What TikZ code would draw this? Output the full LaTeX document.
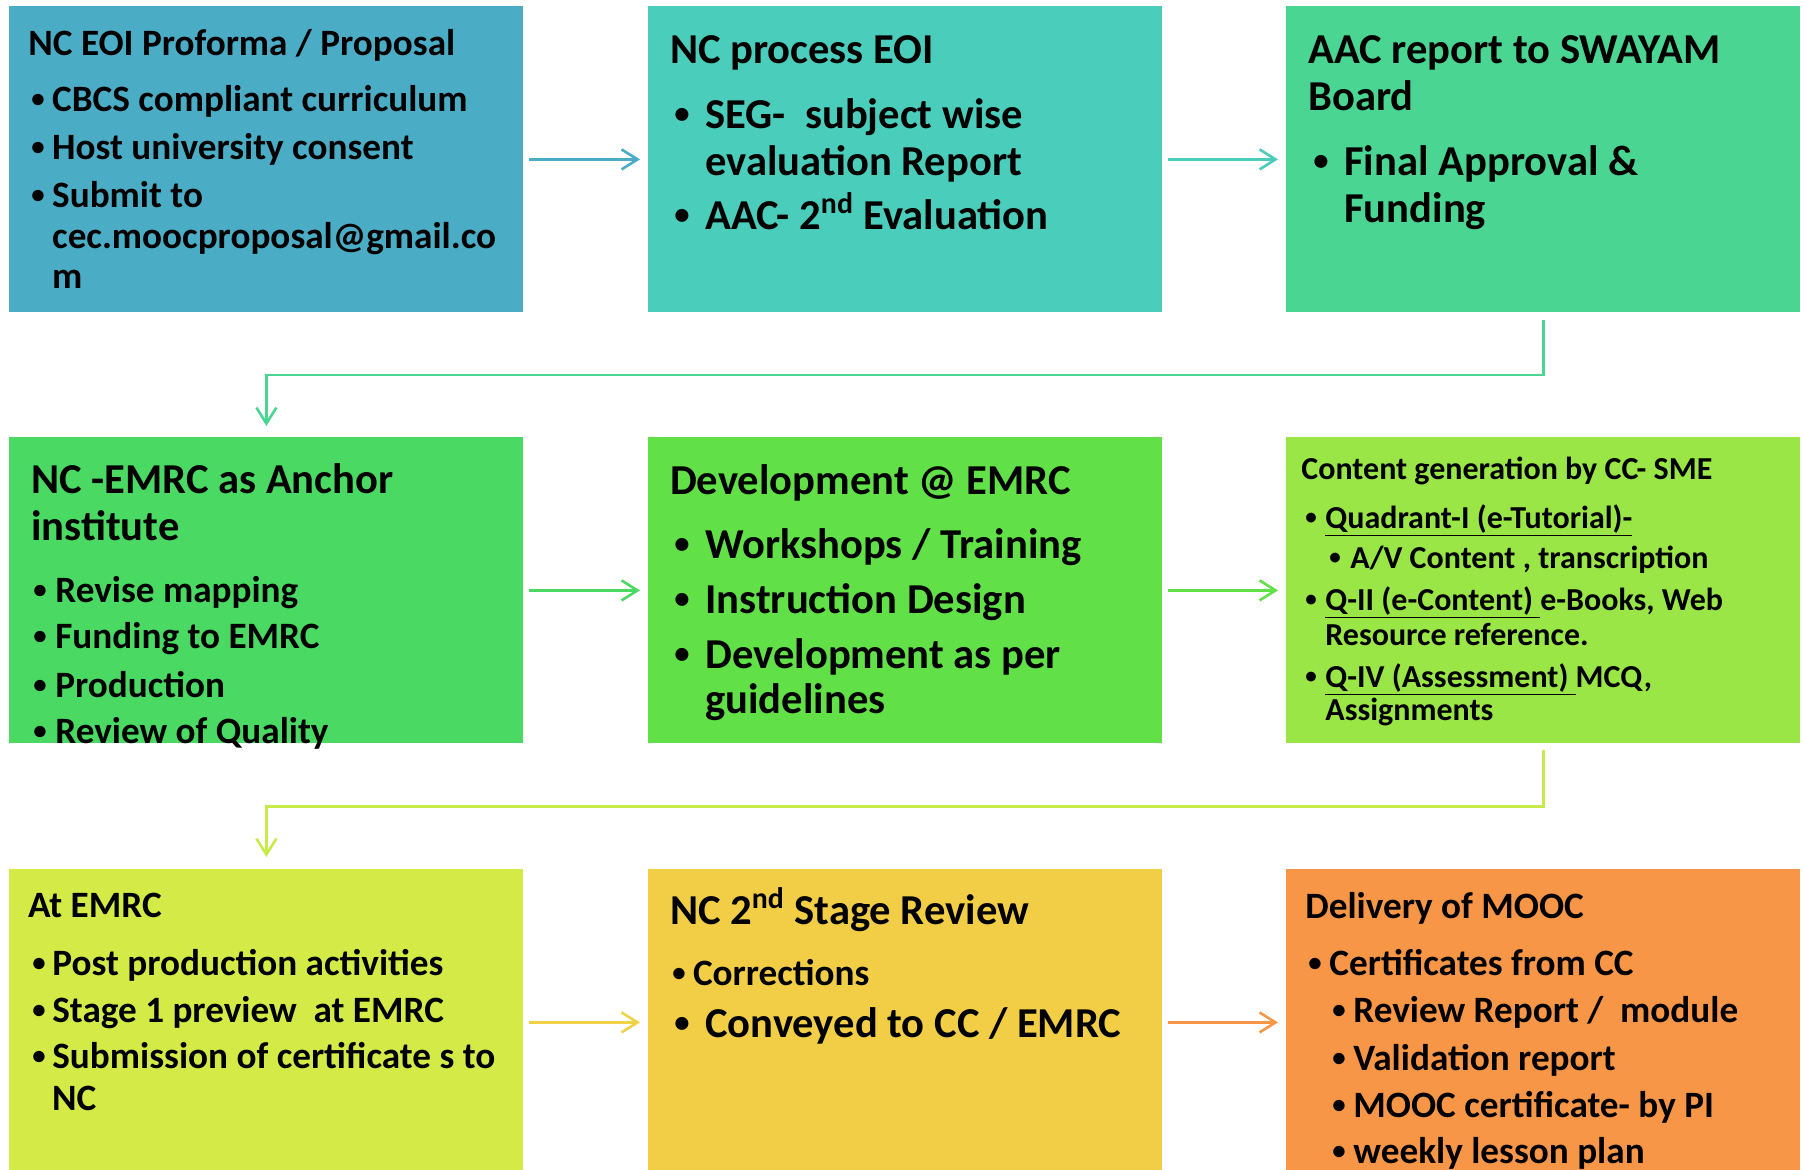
\documentclass[tikz,border=0pt]{standalone}
\usepackage{fontspec}
\setmainfont{Carlito}
\usetikzlibrary{arrows.meta, calc}

\definecolor{cone}{HTML}{4BACC6}
\definecolor{ctwo}{HTML}{4BCDBC}
\definecolor{cthree}{HTML}{4AD593}
\definecolor{cfour}{HTML}{4ADA63}
\definecolor{cfive}{HTML}{62E047}
\definecolor{csix}{HTML}{9BE647}
\definecolor{cseven}{HTML}{D4EB47}
\definecolor{ceight}{HTML}{F2CE46}
\definecolor{cnine}{HTML}{F79646}
\definecolor{lime}{HTML}{C8EB4B}
\definecolor{gold}{HTML}{F0D246}

\newcommand{\bul}[1][10.4pt]{\makebox[#1][l]{\raisebox{0.1em}{\scalebox{0.72}{\textbullet}}}}

\tikzset{
  box/.style={rectangle, inner sep=0pt, anchor=north west,
    minimum width=257pt, minimum height=153pt},
  txt/.style={anchor=base west, inner sep=0pt,
    font=\bfseries\fontsize{#1}{#1}\selectfont},
  flow/.style={->, line width=1.3pt}
}

\begin{document}
\begin{tikzpicture}[x=0.5pt, y=-0.5pt, >={Straight Barb[length=8pt,width=10pt]}]
\useasboundingbox (0,0) rectangle (1804,1169);
\clip (0,0) rectangle (1804,1169);

% boxes
\node[box, fill=cone] (eoi) at (9,6) {};
\node[box, fill=ctwo] (process) at (648,6) {};
\node[box, fill=cthree] (aac) at (1286,6) {};
\node[box, fill=cfour] (anchor) at (9,437) {};
\node[box, fill=cfive] (develop) at (648,437) {};
\node[box, fill=csix] (content) at (1286,437) {};
\node[box, fill=cseven] (atemrc) at (9,869) {};
\node[box, fill=ceight] (review) at (648,869) {};
\node[box, fill=cnine] (delivery) at (1286,869) {};

% row 1 texts
\node[txt=18.6pt] (eoi_t) at (28,55) {NC EOI Proforma / Proposal};
\node[txt=18.6pt] (eoi_a) at (31,111.6) {\bul CBCS compliant curriculum};
\node[txt=18.6pt] (eoi_b) at (31,159) {\bul Host university consent};
\node[txt=18.6pt] (eoi_c) at (31,207) {\bul Submit to};
\node[txt=18.6pt] (eoi_d) at (51.8,248) {cec.moocproposal@gmail.co};
\node[txt=18.6pt] (eoi_e) at (51.8,288) {m};

\node[txt=21.3pt] (process_t) at (669.6,63) {NC process EOI};
\node[txt=21.3pt] (process_a) at (674,128) {\bul[15.5pt]SEG-\ \ subject wise};
\node[txt=21.3pt] (process_b) at (705,175) {evaluation Report};
\node[txt=21.3pt] (process_c) at (674,229) {\bul[15.5pt]AAC- 2\textsuperscript{nd} Evaluation};

\node[txt=21.3pt] (aac_t) at (1308,63) {AAC report to SWAYAM};
\node[txt=21.3pt] (aac_u) at (1308,110) {Board};
\node[txt=21.3pt] (aac_a) at (1313,175) {\bul[15.5pt]Final Approval \&};
\node[txt=21.3pt] (aac_b) at (1344,222) {Funding};

% row 2 texts
\node[txt=21.3pt] (anchor_t) at (31,493) {NC -EMRC as Anchor};
\node[txt=21.3pt] (anchor_u) at (31,540) {institute};
\node[txt=18.6pt] (anchor_a) at (33,602) {\bul[11pt]Revise mapping};
\node[txt=18.6pt] (anchor_b) at (33,648) {\bul[11pt]Funding to EMRC};
\node[txt=18.6pt] (anchor_c) at (33,697) {\bul[11pt]Production};
\node[txt=18.6pt] (anchor_d) at (33,743) {\bul[11pt]Review of Quality};

\node[txt=21.3pt] (develop_t) at (669.6,494) {Development @ EMRC};
\node[txt=21.3pt] (develop_a) at (674,558) {\bul[15.5pt]Workshops / Training};
\node[txt=21.3pt] (develop_b) at (674,613) {\bul[15.5pt]Instruction Design};
\node[txt=21.3pt] (develop_c) at (674,668) {\bul[15.5pt]Development as per};
\node[txt=21.3pt] (develop_d) at (705,713) {guidelines};

\node[txt=16pt] (content_t) at (1301,479) {Content generation by CC- SME};
\node[txt=16pt] (content_a) at (1305,528) {\bul[10pt]\underline{Quadrant-I (e-Tutorial)-}};
\node[txt=16pt] (content_b) at (1329,568) {\bul[10.5pt]A/V Content , transcription};
\node[txt=16pt] (content_c) at (1305,610) {\bul[10pt]\underline{Q-II (e-Content)\ }e-Books, Web};
\node[txt=16pt] (content_d) at (1325,645) {Resource reference.};
\node[txt=16pt] (content_e) at (1305,687) {\bul[10pt]\underline{Q-IV (Assessment)\ }MCQ,};
\node[txt=16pt] (content_f) at (1325,720) {Assignments};

% row 3 texts
\node[txt=18.6pt] (atemrc_t) at (27.6,917) {At EMRC};
\node[txt=18.6pt] (atemrc_a) at (32,975) {\bul[10pt]Post production activities};
\node[txt=18.6pt] (atemrc_b) at (32,1022) {\bul[10pt]Stage 1 preview\ \ at EMRC};
\node[txt=18.6pt] (atemrc_c) at (32,1068) {\bul[10pt]Submission of certificate s to};
\node[txt=18.6pt] (atemrc_d) at (51.8,1110) {NC};

\node[txt=21.3pt] (review_t) at (669.6,924) {NC 2\textsuperscript{nd} Stage Review};
\node[txt=18.6pt] (review_a) at (672,985) {\bul[10.3pt]Corrections};
\node[txt=21.3pt] (review_b) at (674,1037) {\bul[15.5pt]Conveyed to CC / EMRC};

\node[txt=18.6pt] (delivery_t) at (1305,918) {Delivery of MOOC};
\node[txt=18.6pt] (delivery_a) at (1308,975) {\bul[10.5pt]Certificates from CC};
\node[txt=18.6pt] (delivery_b) at (1332,1022) {\bul[10.5pt]Review Report /\ \ module};
\node[txt=18.6pt] (delivery_c) at (1332,1070) {\bul[10.5pt]Validation report};
\node[txt=18.6pt] (delivery_d) at (1332,1117) {\bul[10.5pt]MOOC certificate- by PI};
\node[txt=18.6pt] (delivery_e) at (1332,1163) {\bul[10.5pt]weekly lesson plan};

% connectors
\coordinate (bend1) at ($(aac.south)!0.5!(anchor.north)$);
\coordinate (bend2) at ($(content.south)!0.5!(atemrc.north)$);
\draw[flow, cone, shorten <=2.5pt, shorten >=4pt] (eoi) -- (process);
\draw[flow, ctwo, shorten <=2.5pt, shorten >=4pt] (process) -- (aac);
\draw[flow, cthree, shorten <=3.5pt, shorten >=5.5pt] (aac.south) |- (bend1) -| (anchor.north);
\draw[flow, cfour, shorten <=2.5pt, shorten >=4pt] (anchor) -- (develop);
\draw[flow, cfive, shorten <=2.5pt, shorten >=4pt] (develop) -- (content);
\draw[flow, lime, shorten <=3pt, shorten >=6pt] (content.south) |- (bend2) -| (atemrc.north);
\draw[flow, gold, shorten <=2.5pt, shorten >=4pt] (atemrc) -- (review);
\draw[flow, cnine, shorten <=2.5pt, shorten >=4pt] (review) -- (delivery);
\end{tikzpicture}
\end{document}
